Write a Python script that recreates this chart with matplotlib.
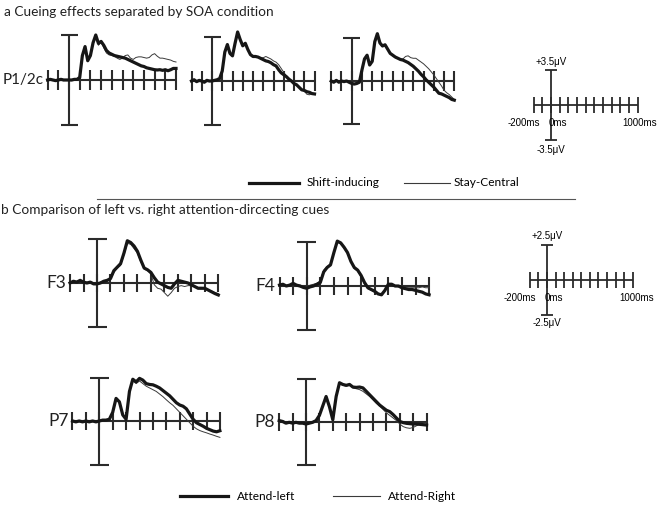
import numpy as np
import matplotlib
matplotlib.use("Agg")
import matplotlib.pyplot as plt
from matplotlib.lines import Line2D

W, H = 661, 505
fig = plt.figure(figsize=(W / 100, H / 100), dpi=100)
fig.patch.set_facecolor("white")

# ---------------- data ----------------
t_top = np.arange(-200, 1001, 25)   # ms, top row (a)
t_bot = np.arange(-200, 901, 25)    # ms, bottom rows (b)

# (a) P1/2c, three SOA conditions: Shift-inducing (thick) vs Stay-Central (thin)
soa1_shift = [0.0, 0.05, 0.0, -0.05, 0.0, 0.05, 0.0, 0.0, 0.0, 0.0, 0.05, 0.05,
              0.2, 1.9, 2.6, 1.5, 1.9, 2.9, 3.5, 2.85, 3.0, 2.7,
              2.3, 2.1, 2.0, 1.9, 1.85, 1.8, 1.75, 1.7, 1.6, 1.5,
              1.4, 1.3, 1.2, 1.1, 1.05, 0.95, 0.9, 0.85, 0.8, 0.78,
              0.8, 0.75, 0.8, 0.72, 0.8, 0.9, 0.9]
soa1_stay = [0.05, 0.0, -0.05, 0.0, 0.05, 0.0, -0.05, 0.0, 0.0, -0.05, 0.0, 0.05,
             0.25, 1.8, 2.4, 1.5, 1.8, 2.8, 3.4, 2.7, 2.95, 2.5,
             2.1, 1.95, 1.9, 1.85, 1.7, 1.6, 1.7, 1.9, 1.95, 1.7,
             1.6, 1.75, 1.8, 1.8, 1.75, 1.7, 1.75, 1.95, 2.05, 1.85,
             1.7, 1.7, 1.65, 1.6, 1.55, 1.45, 1.4]
soa2_shift = [0.0, 0.1, -0.05, 0.05, 0.0, -0.1, 0.05, 0.0, 0.0, 0.05, 0.1, 0.2,
              0.8, 2.3, 2.9, 2.2, 2.0, 3.0, 3.9, 3.3, 2.8, 3.0,
              2.5, 2.1, 1.95, 1.95, 1.9, 1.8, 1.7, 1.6, 1.55, 1.45,
              1.3, 1.2, 0.9, 0.65, 0.5, 0.35, 0.15, 0.0, -0.2, -0.3,
              -0.5, -0.7, -0.75, -0.85, -0.9, -1.0, -1.03]
soa2_stay = [0.05, 0.0, 0.0, -0.05, 0.05, 0.0, 0.0, -0.05, 0.05, 0.0, 0.1, 0.15,
             0.7, 2.2, 2.8, 2.1, 2.0, 2.9, 3.8, 3.2, 2.75, 2.95,
             2.45, 2.1, 1.95, 1.9, 1.9, 1.85, 1.85, 1.95, 1.85, 1.75,
             1.6, 1.5, 1.3, 1.0, 0.7, 0.4, 0.15, -0.05, -0.15, -0.3,
             -0.5, -0.65, -0.8, -1.05, -1.1, -1.0, -1.05]
soa3_shift = [0.0, -0.1, 0.05, -0.1, 0.0, -0.05, 0.0, -0.1, -0.2, -0.25, -0.2, -0.1,
              0.9, 1.8, 2.1, 1.3, 1.6, 3.2, 3.85, 3.1, 2.85, 2.95,
              2.6, 2.25, 2.1, 1.95, 1.85, 1.75, 1.7, 1.6, 1.5, 1.35,
              1.2, 1.0, 0.8, 0.55, 0.35, 0.1, -0.1, -0.3, -0.5, -0.75,
              -1.0, -1.05, -1.15, -1.25, -1.35, -1.5, -1.56]
soa3_stay = [0.05, -0.05, 0.0, -0.05, 0.05, 0.0, -0.05, -0.15, -0.15, -0.2, -0.15, -0.05,
             1.0, 1.75, 2.05, 1.25, 1.55, 3.1, 3.8, 3.05, 2.8, 2.9,
             2.55, 2.2, 2.05, 1.9, 1.85, 1.75, 1.8, 2.0, 2.05, 1.9,
             1.85, 1.85, 1.7, 1.55, 1.4, 1.2, 1.0, 0.75, 0.5, 0.2,
             -0.1, -0.4, -0.75, -0.95, -1.1, -1.3, -1.5]

# (b) Attend-left (thick) vs Attend-Right (thin)
f3_left = [0.0, 0.1, 0.05, 0.15, 0.05, 0.0, 0.05, -0.05, -0.05, 0.0, 0.1, 0.15,
           0.25, 0.7, 0.9, 1.1, 1.7, 2.4, 2.3, 2.1, 1.8, 1.3,
           0.85, 0.75, 0.6, 0.3, 0.05, -0.05, -0.15, -0.25, -0.3, -0.05,
           0.15, 0.1, 0.05, 0.0, -0.1, -0.2, -0.3, -0.3, -0.3, -0.4,
           -0.5, -0.6, -0.68]
f3_right = [0.05, 0.05, 0.1, 0.1, 0.0, 0.05, 0.0, 0.0, -0.05, 0.05, 0.1, 0.1,
            0.2, 0.6, 0.85, 1.0, 1.6, 2.25, 2.2, 1.95, 1.7, 1.2,
            0.8, 0.7, 0.5, -0.1, -0.3, -0.35, -0.55, -0.75, -0.55, -0.3,
            -0.2, -0.15, -0.2, -0.15, -0.15, -0.2, -0.25, -0.25, -0.3, -0.4,
            -0.45, -0.55, -0.6]
f4_left = [0.05, 0.1, 0.0, 0.05, 0.15, 0.05, 0.0, -0.08, -0.13, -0.05, 0.0, 0.1,
           0.2, 0.8, 1.05, 1.2, 1.9, 2.55, 2.45, 2.2, 1.9, 1.4,
           1.05, 0.9, 0.6, 0.2, -0.1, -0.2, -0.3, -0.45, -0.5, -0.25,
           0.1, 0.1, 0.0, 0.0, -0.1, -0.15, -0.2, -0.2, -0.25, -0.3,
           -0.35, -0.45, -0.5]
f4_right = [0.0, 0.05, 0.05, 0.05, 0.1, 0.05, 0.05, 0.0, -0.05, 0.05, 0.1, 0.15,
            0.3, 0.9, 1.1, 1.25, 1.85, 2.5, 2.4, 2.15, 1.85, 1.35,
            1.0, 0.85, 0.5, 0.1, -0.15, -0.25, -0.35, -0.45, -0.45, -0.2,
            0.05, 0.05, 0.0, -0.05, -0.05, -0.1, -0.1, -0.1, -0.1, -0.1,
            -0.05, -0.1, -0.1]
p7_left = [0.0, -0.05, 0.0, -0.05, 0.0, -0.05, 0.0, -0.05, 0.0, 0.05, 0.05, 0.1,
           0.5, 1.3, 1.1, 0.35, 0.1, 1.7, 2.4, 2.25, 2.45, 2.35,
           2.15, 2.1, 2.08, 2.0, 1.9, 1.75, 1.6, 1.45, 1.25, 1.05,
           0.92, 0.85, 0.7, 0.4, 0.1, -0.1, -0.2, -0.3, -0.42, -0.5,
           -0.58, -0.62, -0.56]
p7_right = [0.05, 0.0, -0.05, 0.0, 0.05, 0.0, -0.05, 0.0, 0.05, 0.0, 0.05, 0.1,
            0.45, 1.25, 1.05, 0.35, 0.1, 1.6, 2.3, 2.15, 2.3, 2.15,
            2.0, 1.9, 1.8, 1.7, 1.55, 1.4, 1.22, 1.05, 0.9, 0.7,
            0.5, 0.3, 0.1, -0.1, -0.3, -0.45, -0.55, -0.62, -0.68, -0.75,
            -0.81, -0.88, -0.94]
p8_left = [0.1, 0.05, -0.05, 0.0, -0.05, 0.0, -0.05, -0.05, -0.1, -0.05, 0.0, 0.1,
           0.4, 0.95, 1.5, 0.9, 0.15, 1.5, 2.3, 2.2, 2.15, 2.2,
           2.05, 2.03, 2.05, 2.0, 1.8, 1.6, 1.4, 1.2, 1.0, 0.85,
           0.7, 0.62, 0.45, 0.25, 0.05, -0.02, -0.06, -0.08, -0.1, -0.1,
           -0.12, -0.14, -0.16]
p8_right = [0.05, 0.1, 0.0, -0.05, 0.0, -0.05, 0.0, 0.0, -0.05, 0.0, 0.05, 0.1,
            0.35, 0.9, 1.45, 0.85, 0.2, 1.45, 2.25, 2.15, 2.1, 2.15,
            2.0, 1.95, 1.9, 1.8, 1.65, 1.5, 1.3, 1.1, 0.95, 0.75,
            0.55, 0.4, 0.25, 0.1, -0.1, -0.25, -0.32, -0.35, -0.3, -0.2,
            -0.1, -0.05, -0.05]

top_labels = ["P1/2c", "", ""]
bot_labels = ["F3", "F4", "P7", "P8"]
legend_a = ["Shift-inducing", "Stay-Central"]
legend_b = ["Attend-left", "Attend-Right"]
scale_a = ["+3.5\u03bcV", "-3.5\u03bcV", "-200ms", "0ms", "1000ms"]
scale_b = ["+2.5\u03bcV", "-2.5\u03bcV", "-200ms", "0ms", "1000ms"]

AXC = "#2b2b2b"
LINEC = "#161616"
THINC = "#3a3a3a"
FONT = "Lato"
SFONT = "Liberation Sans"


def fx(px):
    return px / W


def fy(py):
    return 1 - py / H


def make_axes(x0, pxms, y0, pxuv, tmin, tmax, vmax):
    xl = (tmin - 80, tmax + 80)
    yl = (-vmax * 1.35, vmax * 1.35)
    left = x0 + xl[0] * pxms
    width = (xl[1] - xl[0]) * pxms
    top = y0 - yl[1] * pxuv
    height = (yl[1] - yl[0]) * pxuv
    ax = fig.add_axes([fx(left), fy(top + height), width / W, height / H])
    ax.set_xlim(*xl)
    ax.set_ylim(*yl)
    ax.axis("off")
    return ax


def draw_frame(ax, pxms, pxuv, tmin, tmax, vmax, tick_px, cap_px, lw=1.5):
    ticks = np.arange(tmin, tmax + 1, 100)
    ax.plot([tmin, tmax], [0, 0], color=AXC, lw=lw, solid_capstyle="butt")
    ax.vlines(ticks, -tick_px / pxuv, tick_px / pxuv, color=AXC, lw=lw)
    ax.vlines([0], -vmax, vmax, color=AXC, lw=lw)
    ax.hlines([vmax, -vmax], -cap_px / pxms, cap_px / pxms, color=AXC, lw=lw)


def erp_panel(x0, pxms, y0, pxuv, t, thick, thin, vmax, label, tick_px, cap_px,
              lab_size=12.5):
    tmin, tmax = t[0], t[-1]
    ax = make_axes(x0, pxms, y0, pxuv, tmin, tmax, vmax)
    draw_frame(ax, pxms, pxuv, tmin, tmax, vmax, tick_px, cap_px)
    ax.plot(t, thin, color=THINC, lw=0.7, zorder=3)
    ax.plot(t, thick, color=LINEC, lw=2.3, zorder=4, solid_joinstyle="round")
    if label:
        ax.text(tmin - 4 / pxms, 0, label, ha="right", va="center",
                fontsize=lab_size, family=FONT, color="#222222")
    return ax


# ---------------- (a) ----------------
fig.text(fx(4), fy(12), "a Cueing effects separated by SOA condition",
         fontsize=9.8, family=FONT, va="center", ha="left", color="#222222")

erp_panel(69, 0.107, 80, 45 / 3.5, t_top, soa1_shift, soa1_stay, 3.5,
          top_labels[0], 10, 8.5, lab_size=11)
erp_panel(212, 0.1025, 81, 44 / 3.5, t_top, soa2_shift, soa2_stay, 3.5,
          top_labels[1], 10, 8.5)
erp_panel(351.7, 0.1026, 81, 43 / 3.5, t_top, soa3_shift, soa3_stay, 3.5,
          top_labels[2], 10, 8.5)

# scale bar (a)
sa = make_axes(551, 0.0867, 105, 10.0, -200, 1000, 3.5)
draw_frame(sa, 0.0867, 10.0, -200, 1000, 3.5, 8, 6, lw=1.3)
fig.text(fx(551), fy(62), scale_a[0], fontsize=7, family=SFONT, ha="center", va="center")
fig.text(fx(551), fy(150), scale_a[1], fontsize=7, family=SFONT, ha="center", va="center")
fig.text(fx(524), fy(123), scale_a[2], fontsize=7, family=SFONT, ha="center", va="center")
fig.text(fx(558), fy(123), scale_a[3], fontsize=7, family=SFONT, ha="center", va="center")
fig.text(fx(640), fy(123), scale_a[4], fontsize=7, family=SFONT, ha="center", va="center")

# legend (a)
fig.add_artist(Line2D([fx(249), fx(299)], [fy(183), fy(183)], color=LINEC, lw=2.3))
fig.text(fx(307), fy(183), legend_a[0], fontsize=8.6, family=FONT, va="center", ha="left")
fig.add_artist(Line2D([fx(404), fx(450)], [fy(183), fy(183)], color=THINC, lw=0.8))
fig.text(fx(454), fy(183), legend_a[1], fontsize=8.6, family=FONT, va="center", ha="left")

# separator
fig.add_artist(Line2D([fx(97), fx(575)], [fy(199), fy(199)], color="#555555", lw=0.8))

# ---------------- (b) ----------------
fig.text(fx(1), fy(210), "b Comparison of left vs. right attention-dircecting cues",
         fontsize=9.8, family=FONT, va="center", ha="left", color="#222222")

erp_panel(97, 0.1348, 283, 44 / 2.5, t_bot, f3_left, f3_right, 2.5,
          bot_labels[0], 9, 9.5)
erp_panel(306.7, 0.136, 286, 44 / 2.5, t_bot, f4_left, f4_right, 2.5,
          bot_labels[1], 9, 9.5)
erp_panel(99.3, 0.134, 421, 43.5 / 2.5, t_bot, p7_left, p7_right, 2.5,
          bot_labels[2], 9, 9.5)
erp_panel(306, 0.134, 422.3, 43 / 2.5, t_bot, p8_left, p8_right, 2.5,
          bot_labels[3], 9, 9.5)

# scale bar (b)
sb = make_axes(547, 0.0858, 280, 14.0, -200, 1000, 2.5)
draw_frame(sb, 0.0858, 14.0, -200, 1000, 2.5, 8, 6, lw=1.3)
fig.text(fx(547), fy(236), scale_b[0], fontsize=7, family=SFONT, ha="center", va="center")
fig.text(fx(547), fy(323), scale_b[1], fontsize=7, family=SFONT, ha="center", va="center")
fig.text(fx(520), fy(298), scale_b[2], fontsize=7, family=SFONT, ha="center", va="center")
fig.text(fx(554), fy(298), scale_b[3], fontsize=7, family=SFONT, ha="center", va="center")
fig.text(fx(637), fy(298), scale_b[4], fontsize=7, family=SFONT, ha="center", va="center")

# legend (b)
fig.add_artist(Line2D([fx(180), fx(228)], [fy(496), fy(496)], color=LINEC, lw=2.3))
fig.text(fx(237), fy(496), legend_b[0], fontsize=8.6, family=FONT, va="center", ha="left")
fig.add_artist(Line2D([fx(333), fx(380)], [fy(496), fy(496)], color=THINC, lw=0.8))
fig.text(fx(388), fy(496), legend_b[1], fontsize=8.6, family=FONT, va="center", ha="left")

fig.savefig("out.png", dpi=100, facecolor="white")
